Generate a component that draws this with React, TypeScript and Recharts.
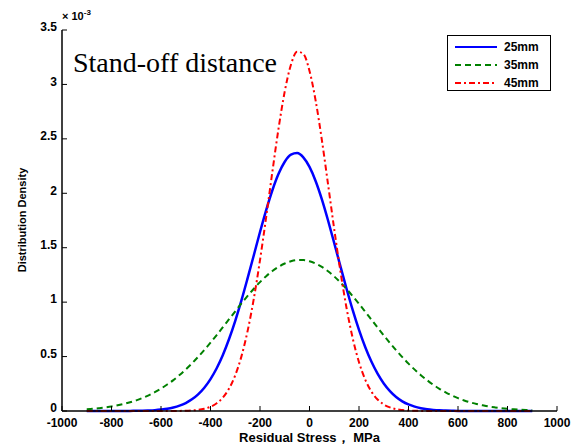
import { LineChart, Line, XAxis, YAxis, Legend } from "recharts";

// residual stress grid, MPa
const stress = [
  -900, -875, -850, -825, -800, -775, -750, -725, -700, -675, -650, -625, -600,
  -575, -550, -525, -500, -475, -450, -425, -400, -375, -350, -325, -300, -275,
  -250, -225, -200, -175, -150, -125, -100, -75, -50, -25, 0, 25, 50, 75, 100,
  125, 150, 175, 200, 225, 250, 275, 300, 325, 350, 375, 400, 425, 450, 475,
  500, 525, 550, 575, 600, 625, 650, 675, 700, 725, 750, 775, 800, 825, 850,
  875, 900,
];

// distribution density, x 10^-3
const d25 = [
  0, 0, 0, 0, 0, 0, 0, 0.001, 0.002, 0.003, 0.005, 0.008, 0.013,
  0.02, 0.032, 0.049, 0.073, 0.107, 0.153, 0.214, 0.293, 0.393, 0.515, 0.661, 0.829, 1.016,
  1.22, 1.431, 1.644, 1.846, 2.028, 2.179, 2.29, 2.355, 2.369, 2.33, 2.242, 2.111, 1.944, 1.75, 1.542,
  1.329, 1.121, 0.924, 0.745, 0.588, 0.454, 0.343, 0.253, 0.183, 0.129, 0.089, 0.06, 0.04, 0.026, 0.016,
  0.01, 0.006, 0.004, 0.002, 0.001, 0, 0, 0, 0, 0, 0, 0, 0, 0, 0,
  0, 0,
];

const d35 = [
  0.016, 0.02, 0.026, 0.033, 0.041, 0.052, 0.065, 0.08, 0.098, 0.119, 0.144, 0.173, 0.206,
  0.243, 0.284, 0.331, 0.382, 0.437, 0.497, 0.561, 0.628, 0.698, 0.77, 0.843, 0.916, 0.988,
  1.057, 1.123, 1.184, 1.238, 1.286, 1.325, 1.355, 1.376, 1.386, 1.386, 1.375, 1.354, 1.324, 1.284, 1.236,
  1.181, 1.12, 1.054, 0.985, 0.913, 0.84, 0.767, 0.695, 0.625, 0.558, 0.495, 0.435, 0.38, 0.329, 0.283,
  0.241, 0.204, 0.172, 0.143, 0.118, 0.097, 0.079, 0.064, 0.052, 0.041, 0.033, 0.026, 0.02, 0.015, 0.012,
  0.009, 0.007,
];

const d45 = [
  0, 0, 0, 0, 0, 0, 0, 0, 0, 0, 0, 0, 0,
  0, 0, 0.001, 0.002, 0.005, 0.01, 0.021, 0.039, 0.071, 0.124, 0.206, 0.329, 0.502,
  0.736, 1.032, 1.386, 1.783, 2.198, 2.596, 2.936, 3.181, 3.301, 3.281, 3.124, 2.849, 2.489, 2.082, 1.669,
  1.282, 0.942, 0.664, 0.448, 0.29, 0.179, 0.106, 0.06, 0.033, 0.017, 0.009, 0.004, 0.002, 0.001, 0,
  0, 0, 0, 0, 0, 0, 0, 0, 0, 0, 0, 0, 0, 0, 0,
  0, 0,
];

const xTicks = [-1000, -800, -600, -400, -200, 0, 200, 400, 600, 800, 1000];
const yTicks = [0, 0.5, 1, 1.5, 2, 2.5, 3, 3.5];

const series = [
  { key: "d25", name: "25mm", color: "#0000ff", width: 2.5, dash: undefined },
  { key: "d35", name: "35mm", color: "#008000", width: 2, dash: "6 4" },
  { key: "d45", name: "45mm", color: "#ff0000", width: 2, dash: "6 3 2 3" },
];

const data = stress.map((s, i) => ({ s, d25: d25[i], d35: d35[i], d45: d45[i] }));

const font = "'Liberation Sans', Arial, sans-serif";
const tickStyle = { fontSize: 12, fontWeight: 700, fill: "#000", fontFamily: font };
const blank = () => "";

function LegendBox() {
  return (
    <div
      style={{
        border: "1.5px solid #000",
        background: "#fff",
        width: 104,
        height: 56,
        boxSizing: "border-box",
        padding: "2px 0 0 6px",
      }}
    >
      {series.map((s) => (
        <div key={s.key} style={{ display: "flex", alignItems: "center", height: 18 }}>
          <svg width={44} height={10}>
            <line x1={1} y1={5} x2={43} y2={5} stroke={s.color} strokeWidth={2} strokeDasharray={s.dash} />
          </svg>
          <span style={{ marginLeft: 6, fontSize: 12, fontWeight: 700, fontFamily: font }}>{s.name}</span>
        </div>
      ))}
    </div>
  );
}

export default function App() {
  return (
    <div style={{ position: "absolute", left: 0, top: 0, width: 579, height: 445, background: "#fff" }}>
      <LineChart width={579} height={445} data={data} margin={{ top: 30, right: 22, left: 22, bottom: 0 }}>
        <XAxis
          dataKey="s"
          type="number"
          domain={[-1000, 1000]}
          ticks={xTicks}
          height={34}
          tickSize={-5}
          tickMargin={12}
          tick={tickStyle}
          axisLine={{ stroke: "#000", strokeWidth: 1.5 }}
          tickLine={{ stroke: "#000" }}
          label={{
            value: "Residual Stress， MPa",
            position: "insideBottom",
            offset: 3,
            style: { fontSize: 13, fontWeight: 700, fill: "#000", fontFamily: font },
          }}
        />
        <XAxis
          xAxisId="top"
          dataKey="s"
          type="number"
          orientation="top"
          domain={[-1000, 1000]}
          ticks={xTicks}
          height={0}
          tickSize={-5}
          tickFormatter={blank}
          axisLine={{ stroke: "#000", strokeWidth: 1.5 }}
          tickLine={{ stroke: "#000" }}
        />
        <YAxis
          type="number"
          domain={[0, 3.5]}
          ticks={yTicks}
          width={40}
          tickSize={-5}
          tickMargin={10}
          tick={{ ...tickStyle, dy: -3 }}
          tickFormatter={(v: number) => String(v)}
          axisLine={{ stroke: "#000", strokeWidth: 1.5 }}
          tickLine={{ stroke: "#000" }}
        />
        <YAxis
          yAxisId="right"
          type="number"
          orientation="right"
          domain={[0, 3.5]}
          ticks={yTicks}
          width={0}
          tickSize={-5}
          tickFormatter={blank}
          axisLine={{ stroke: "#000", strokeWidth: 1.5 }}
          tickLine={{ stroke: "#000" }}
        />
        <Legend
          layout="horizontal"
          verticalAlign="middle"
          align="center"
          content={() => <LegendBox />}
          wrapperStyle={{ left: 447, top: 35, width: 104, height: 56 }}
        />
        {series.map((s) => (
          <Line
            key={s.key}
            dataKey={s.key}
            name={s.name}
            type="monotone"
            stroke={s.color}
            strokeWidth={s.width}
            strokeDasharray={s.dash}
            dot={false}
            activeDot={false}
            isAnimationActive={false}
          />
        ))}
      </LineChart>
      <div
        style={{
          position: "absolute",
          left: 62,
          top: 8,
          fontSize: 11,
          fontWeight: 700,
          fontFamily: font,
          whiteSpace: "nowrap",
        }}
      >
        × 10<sup style={{ fontSize: 8 }}>-3</sup>
      </div>
      <div
        style={{
          position: "absolute",
          left: 73,
          top: 47,
          fontSize: 28,
          fontFamily: "'Liberation Serif', 'Times New Roman', serif",
          whiteSpace: "nowrap",
        }}
      >
        Stand-off distance
      </div>
      <div
        style={{
          position: "absolute",
          left: 22,
          top: 220,
          transform: "translate(-50%, -50%) rotate(-90deg)",
          fontSize: 11,
          fontWeight: 700,
          fontFamily: font,
          whiteSpace: "nowrap",
        }}
      >
        Distribution Density
      </div>
    </div>
  );
}
